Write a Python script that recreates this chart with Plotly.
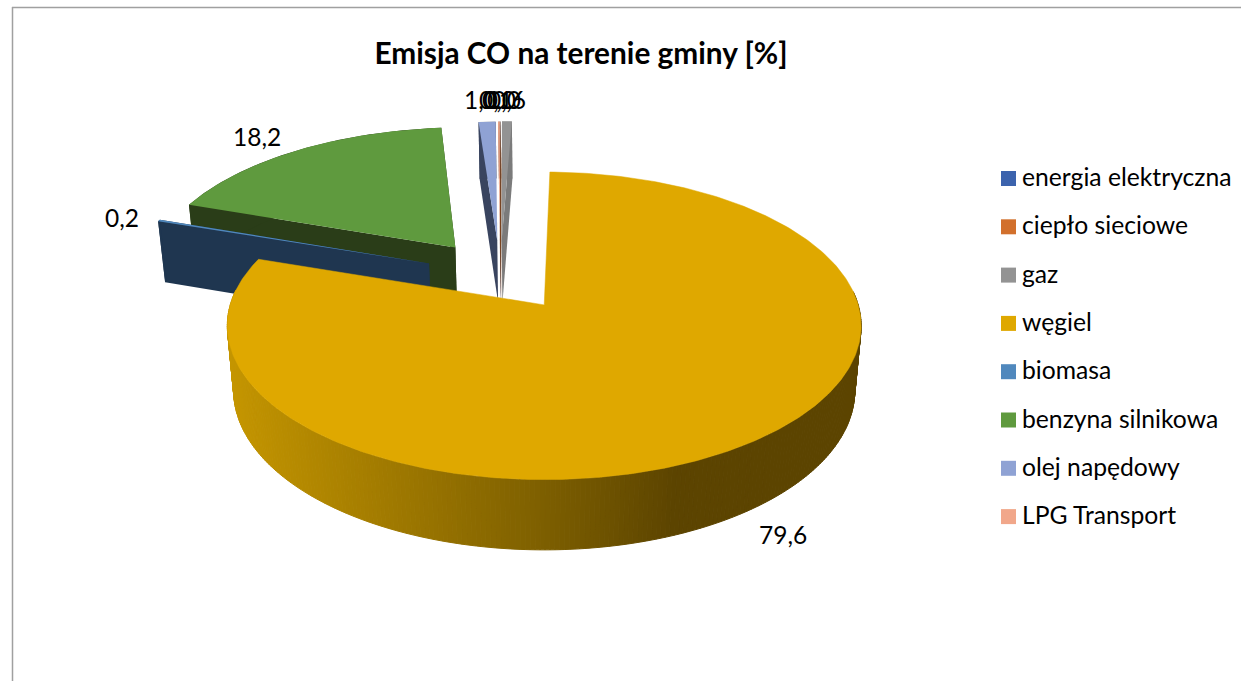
import math
import plotly.graph_objects as go

# ---- data ----
categories = ["energia elektryczna", "ciepło sieciowe", "gaz", "węgiel", "biomasa",
              "benzyna silnikowa", "olej napędowy", "LPG Transport"]
values = [0.02, 0.02, 0.6, 79.6, 0.2, 18.2, 1.04, 0.1]
top_colors = ["#3C63AD", "#D2702C", "#939393", "#DFA800", "#5088BD", "#5F9A3E", "#8FA2D4", "#F1A78A"]
face_colors = ["#263C68", "#7F431A", "#7B7B7B", "#7A5C00", "#1F3650", "#2A3D18", "#39445F", "#91644F"]
label_shift = [(-1, -22), (3, -22), (2, -22), (35, 91), (-37, -3), (-40, -14), (-6, -22), (-3, -22)]
title = "Emisja CO na terenie gminy [%]"

# ---- pie geometry (perspective projection of an exploded 3-D pie) ----
W, H = 1241, 681
X0, Y0 = 544, 305     # screen position of the projection origin
A, B = 314, 151       # horizontal / vertical radius scale
K = 0.136             # perspective strength
DEPTH, DZ = 65.6, 0.02
EXPLODE = 0.25
START = -1.13         # degrees clockwise from 12 o'clock
PIE_C = (-0.1435, 0.205)


def project(u, v, low=False):
    w = 1 + K * v + (DZ if low else 0)
    return X0 + A * u / w, Y0 - (B * v - (DEPTH if low else 0)) / w


def wall_colour(x):
    stops = [(228, (197, 150, 0)), (549, (125, 95, 0)), (680, (92, 68, 0)), (2000, (92, 68, 0))]
    for (x1, c1), (x2, c2) in zip(stops, stops[1:]):
        if x <= x2:
            t = max(0, (x - x1) / (x2 - x1))
            return "rgb(%d,%d,%d)" % tuple(c1[i] + t * (c2[i] - c1[i]) for i in range(3))
    return "rgb(92,68,0)"


fig = go.Figure()


def poly(pts, color, line=0):
    fig.add_trace(go.Scatter(
        x=[p[0] for p in pts] + [pts[0][0]], y=[p[1] for p in pts] + [pts[0][1]],
        mode="lines", fill="toself", fillcolor=color,
        line=dict(width=line, color=color), hoverinfo="skip", showlegend=False))


total = sum(values)
slices = []
a = START
for name, val, top, face, sh in zip(categories, values, top_colors, face_colors, label_shift):
    sweep = val / total * 360
    mid = math.radians(a + sweep / 2)
    cu = PIE_C[0] + EXPLODE * math.sin(mid)
    cv = PIE_C[1] + EXPLODE * math.cos(mid)
    slices.append(dict(name=name, val=val, top=top, face=face, sh=sh, a0=a, a1=a + sweep, mid=mid, cu=cu, cv=cv))
    a += sweep


def arc(s, n):
    out = []
    for i in range(n + 1):
        t = math.radians(s["a0"] + (s["a1"] - s["a0"]) * i / n)
        out.append((s["cu"] + math.sin(t), s["cv"] + math.cos(t)))
    return out


# back to front: slivers, diesel, petrol, biomass, coal
order = [7, 0, 1, 2, 6, 5, 4, 3]
for idx in order:
    s = slices[idx]
    big = s["a1"] - s["a0"] > 30
    pts = arc(s, 360 if big else 4)
    c = (s["cu"], s["cv"])
    if idx != 3:
        # radial faces and rim of the exploded slices
        for tip in (pts[0], pts[-1]):
            poly([project(*c), project(*tip), project(*tip, True), project(*c, True)], s["face"])
        poly([project(*p) for p in pts] + [project(*p, True) for p in reversed(pts)], s["face"])
        poly([project(*c)] + [project(*p) for p in pts], s["top"])
    else:
        # the coal rim: only the part facing the viewer, with its gradient
        for p, q in zip(pts, pts[1:]):
            if p[1] - s["cv"] > 0.1 or q[1] - s["cv"] > 0.1:
                continue
            x1, _ = project(*p)
            poly([project(*p), project(*q), project(*q, True), project(*p, True)],
                 wall_colour(x1), line=1)
        poly([project(*c)] + [project(*p) for p in pts], s["top"], line=0.5)

# data labels
for s in slices:
    u = s["cu"] + math.sin(s["mid"])
    v = s["cv"] + math.cos(s["mid"])
    x, y = project(u, v)
    fig.add_annotation(x=x, y=y, xshift=s["sh"][0], yshift=-s["sh"][1], showarrow=False,
                       text=f"{s['val']:.1f}".replace(".", ","),
                       font=dict(family="Lato", size=24.5, color="#000000"),
                       xanchor="center", yanchor="middle")

# legend drawn as squares with text
LEG_X, LEG_Y, LEG_STEP = 1008.5, 178.5, 48.3
LEG_TEXT_X = 1022
for i, (name, col) in enumerate(zip(categories, top_colors)):
    ly = LEG_Y + i * LEG_STEP
    fig.add_trace(go.Scatter(x=[LEG_X], y=[ly], mode="markers",
                             marker=dict(symbol="square", size=15, color=col, line=dict(width=0)),
                             hoverinfo="skip", showlegend=False))
    fig.add_annotation(x=LEG_TEXT_X, y=ly, text=name, showarrow=False, xanchor="left", yanchor="middle",
                       xshift=-2, yshift=2, font=dict(family="Lato", size=24.7, color="#000000"))

# chart frame
fig.add_shape(type="line", x0=12, x1=1241, y0=7.5, y1=7.5, line=dict(color="#A0A0A0", width=1.5))
fig.add_shape(type="line", x0=12.5, x1=12.5, y0=7, y1=681, line=dict(color="#A0A0A0", width=1.5))

fig.update_layout(
    width=W, height=H, margin=dict(l=0, r=0, t=0, b=0), autosize=False,
    paper_bgcolor="white", plot_bgcolor="white", showlegend=False,
    title=dict(text="<b>%s</b>" % title, x=581 / W, xanchor="center", y=1 - 54 / H, yanchor="middle",
               font=dict(family="Lato", size=29.8, color="#000000")),
    xaxis=dict(range=[0, W], visible=False, fixedrange=True),
    yaxis=dict(range=[H, 0], visible=False, fixedrange=True),
)
fig.write_html("out.html", post_script="document.body.style.margin='0';document.body.style.overflow='hidden';",
               config=dict(displayModeBar=False))
